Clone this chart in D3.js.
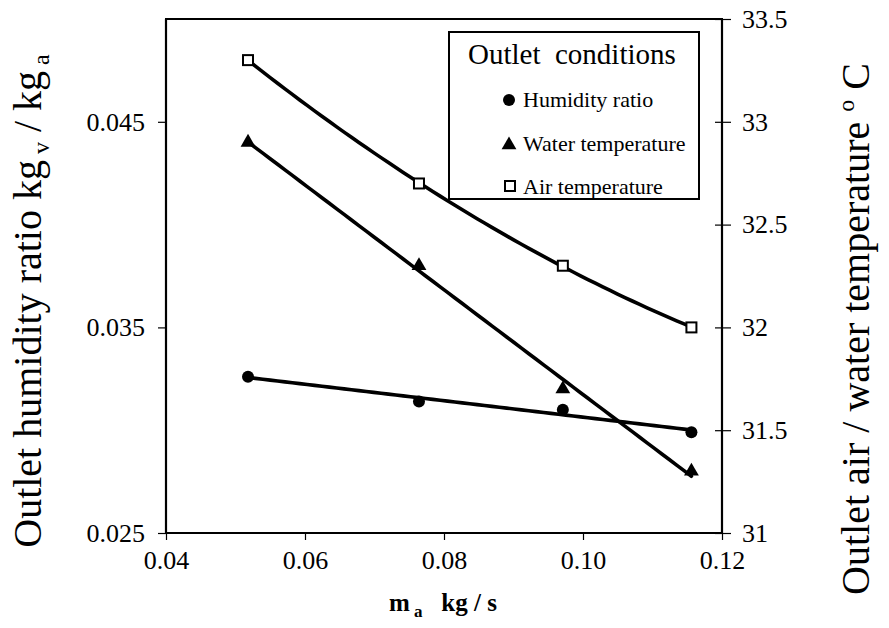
<!DOCTYPE html>
<html><head><meta charset="utf-8">
<script src="https://cdn.jsdelivr.net/npm/d3@7"></script>
<style>body{margin:0;background:#fff}svg{display:block}</style>
</head><body><svg id="c" width="889" height="628" font-family="Liberation Serif"></svg>
<script>
// ---- data ----
const massFlow = [0.0518, 0.0764, 0.0971, 0.1156];          // m_a kg/s
const humidityRatio = [0.0326, 0.0314, 0.0310, 0.0299];     // kg_v/kg_a (left axis)
const waterTemp = [32.9, 32.3, 31.7, 31.3];                 // °C (right axis)
const airTemp = [33.3, 32.7, 32.3, 32.0];                   // °C (right axis)
const xTicks = [0.04, 0.06, 0.08, 0.10, 0.12];
const yLeftTicks = [0.025, 0.035, 0.045];
const yRightTicks = [31, 31.5, 32, 32.5, 33, 33.5];
const legendItems = ["Humidity ratio", "Water temperature", "Air temperature"];

const F = "Liberation Serif";
const svg = d3.select("#c");
const L = 166, R = 722, T = 19, B = 533;
const x = d3.scaleLinear().domain([0.04, 0.12]).range([L, R]);
const yL = d3.scaleLinear().domain([0.025, 0.05]).range([B, T]);
const yR = d3.scaleLinear().domain([31, 33.5]).range([B, T]);

// least-squares polynomial fit (trend lines of the data)
function polyfit(xs, ys, deg) {
  const n = deg + 1;
  const A = Array.from({length: n}, () => new Array(n + 1).fill(0));
  xs.forEach((xv, k) => {
    for (let i = 0; i < n; i++) {
      for (let j = 0; j < n; j++) A[i][j] += Math.pow(xv, i + j);
      A[i][n] += ys[k] * Math.pow(xv, i);
    }
  });
  for (let i = 0; i < n; i++) {
    let p = i;
    for (let r = i + 1; r < n; r++) if (Math.abs(A[r][i]) > Math.abs(A[p][i])) p = r;
    const tmp = A[i]; A[i] = A[p]; A[p] = tmp;
    for (let r = 0; r < n; r++) if (r !== i) {
      const f = A[r][i] / A[i][i];
      for (let c = i; c <= n; c++) A[r][c] -= f * A[i][c];
    }
  }
  const coef = A.map((row, i) => row[n] / row[i]);
  return v => coef.reduce((s, c, i) => s + c * Math.pow(v, i), 0);
}

// axes
const fs = 26;
const gx = svg.append("g").attr("transform", `translate(0,${B})`)
  .call(d3.axisBottom(x).tickValues(xTicks).tickFormat(d3.format(".2f")).tickSize(7).tickSizeOuter(0));
const gl = svg.append("g").attr("transform", `translate(${L},0)`)
  .call(d3.axisLeft(yL).tickValues(yLeftTicks).tickFormat(d3.format(".3f")).tickSize(8).tickSizeOuter(0));
const gr = svg.append("g").attr("transform", `translate(${R},0)`)
  .call(d3.axisRight(yR).tickValues(yRightTicks).tickFormat(d => String(d)).tickSize(9).tickSizeOuter(0));
gr.selectAll(".tick").append("line").attr("x1", -7).attr("x2", 0);
[gx, gl, gr].forEach(g => {
  g.attr("font-family", F).attr("font-size", fs);
  g.select(".domain").attr("stroke", "#000").attr("stroke-width", 2.2);
  g.selectAll(".tick line").attr("stroke", "#000").attr("stroke-width", 1.2);
  g.selectAll(".tick text").attr("fill", "#000");
});
gx.selectAll(".tick text").attr("dy", "1.05em").attr("y", 9);
gl.selectAll(".tick text").attr("x", -21);
gr.selectAll(".tick text").attr("x", 20);
gx.select(".domain").attr("d", `M${L},0H${R}`);
gl.select(".domain").attr("d", `M0,${B}V${T}`);
gr.select(".domain").attr("d", `M0,${B}V${T}`);
svg.append("line").attr("x1", L - 1).attr("x2", R + 1).attr("y1", T).attr("y2", T)
  .attr("stroke", "#000").attr("stroke-width", 2.2);

// fitted lines
const x0 = massFlow[0], x1 = massFlow[massFlow.length - 1];
const samples = d3.range(0, 61).map(i => x0 + (x1 - x0) * i / 60);
const fitH = polyfit(massFlow, humidityRatio, 1);
const fitW = polyfit(massFlow, waterTemp, 1);
const fitA = polyfit(massFlow, airTemp, 2);
const lineStyle = p => p.attr("fill", "none").attr("stroke", "#000").attr("stroke-width", 3.6).attr("stroke-linecap", "round");
svg.append("path").datum(samples).attr("d", d3.line().x(d => x(d)).y(d => yL(fitH(d)))).call(lineStyle);
svg.append("path").datum(samples).attr("d", d3.line().x(d => x(d)).y(d => yR(fitW(d)))).call(lineStyle);
svg.append("path").datum(samples).attr("d", d3.line().x(d => x(d)).y(d => yR(fitA(d)))).call(lineStyle);

// markers
const circ = d3.symbol().type(d3.symbolCircle).size(Math.PI * 36);
const tri = d3.symbol().type(d3.symbolTriangle).size(95);
svg.append("g").selectAll("path").data(massFlow).join("path")
  .attr("transform", (d, i) => `translate(${x(d)},${yL(humidityRatio[i])})`).attr("d", circ).attr("fill", "#000");
svg.append("g").selectAll("path").data(massFlow).join("path")
  .attr("transform", (d, i) => `translate(${x(d)},${yR(waterTemp[i])})`).attr("d", tri).attr("fill", "#000");
svg.append("g").selectAll("rect").data(massFlow).join("rect")
  .attr("x", d => x(d) - 5).attr("y", (d, i) => yR(airTemp[i]) - 5).attr("width", 10).attr("height", 10)
  .attr("fill", "#fff").attr("stroke", "#000").attr("stroke-width", 2);

// legend
const lg = svg.append("g").attr("font-family", F);
lg.append("rect").attr("x", 449).attr("y", 32).attr("width", 250).attr("height", 167)
  .attr("fill", "#fff").attr("stroke", "#000").attr("stroke-width", 2);
lg.append("text").attr("x", 468).attr("y", 64).attr("font-size", 29)
  .attr("xml:space", "preserve").style("white-space", "pre").text("Outlet  conditions");
const ly = [107, 151, 194];
legendItems.forEach((t, i) => {
  lg.append("text").attr("x", 523).attr("y", ly[i]).attr("font-size", 22).text(t);
});
lg.append("path").attr("transform", `translate(509,${ly[0] - 7})`).attr("d", circ).attr("fill", "#000");
lg.append("path").attr("transform", `translate(509,${ly[1] - 6})`).attr("d", tri).attr("fill", "#000");
lg.append("rect").attr("x", 505).attr("y", ly[2] - 13).attr("width", 10).attr("height", 10)
  .attr("fill", "#fff").attr("stroke", "#000").attr("stroke-width", 2);

// axis titles
const lt = svg.append("text").attr("transform", "translate(41,301) rotate(-90)")
  .attr("text-anchor", "middle").attr("font-family", F).attr("font-size", 40);
lt.append("tspan").text("Outlet humidity ratio kg");
lt.append("tspan").attr("dy", 8).attr("font-size", 24).text(" v");
lt.append("tspan").attr("dy", -8).text(" / kg");
lt.append("tspan").attr("dy", 8).attr("font-size", 24).text(" a");

const rt = svg.append("text").attr("transform", "translate(869,329) rotate(-90)")
  .attr("text-anchor", "middle").attr("font-family", F).attr("font-size", 40);
rt.append("tspan").text("Outlet air / water temperature ");
rt.append("tspan").attr("dy", -15).attr("font-size", 24).text("o");
rt.append("tspan").attr("dy", 15).text(" C");

const bt = svg.append("text").attr("x", 443).attr("y", 611).attr("text-anchor", "middle")
  .attr("font-family", F).attr("font-size", 25).attr("font-weight", "bold")
  .attr("xml:space", "preserve").style("white-space", "pre");
bt.append("tspan").text("m");
bt.append("tspan").attr("dy", 6).attr("font-size", 17).text(" a");
bt.append("tspan").attr("dy", -6).text("   kg / s");
</script></body></html>
